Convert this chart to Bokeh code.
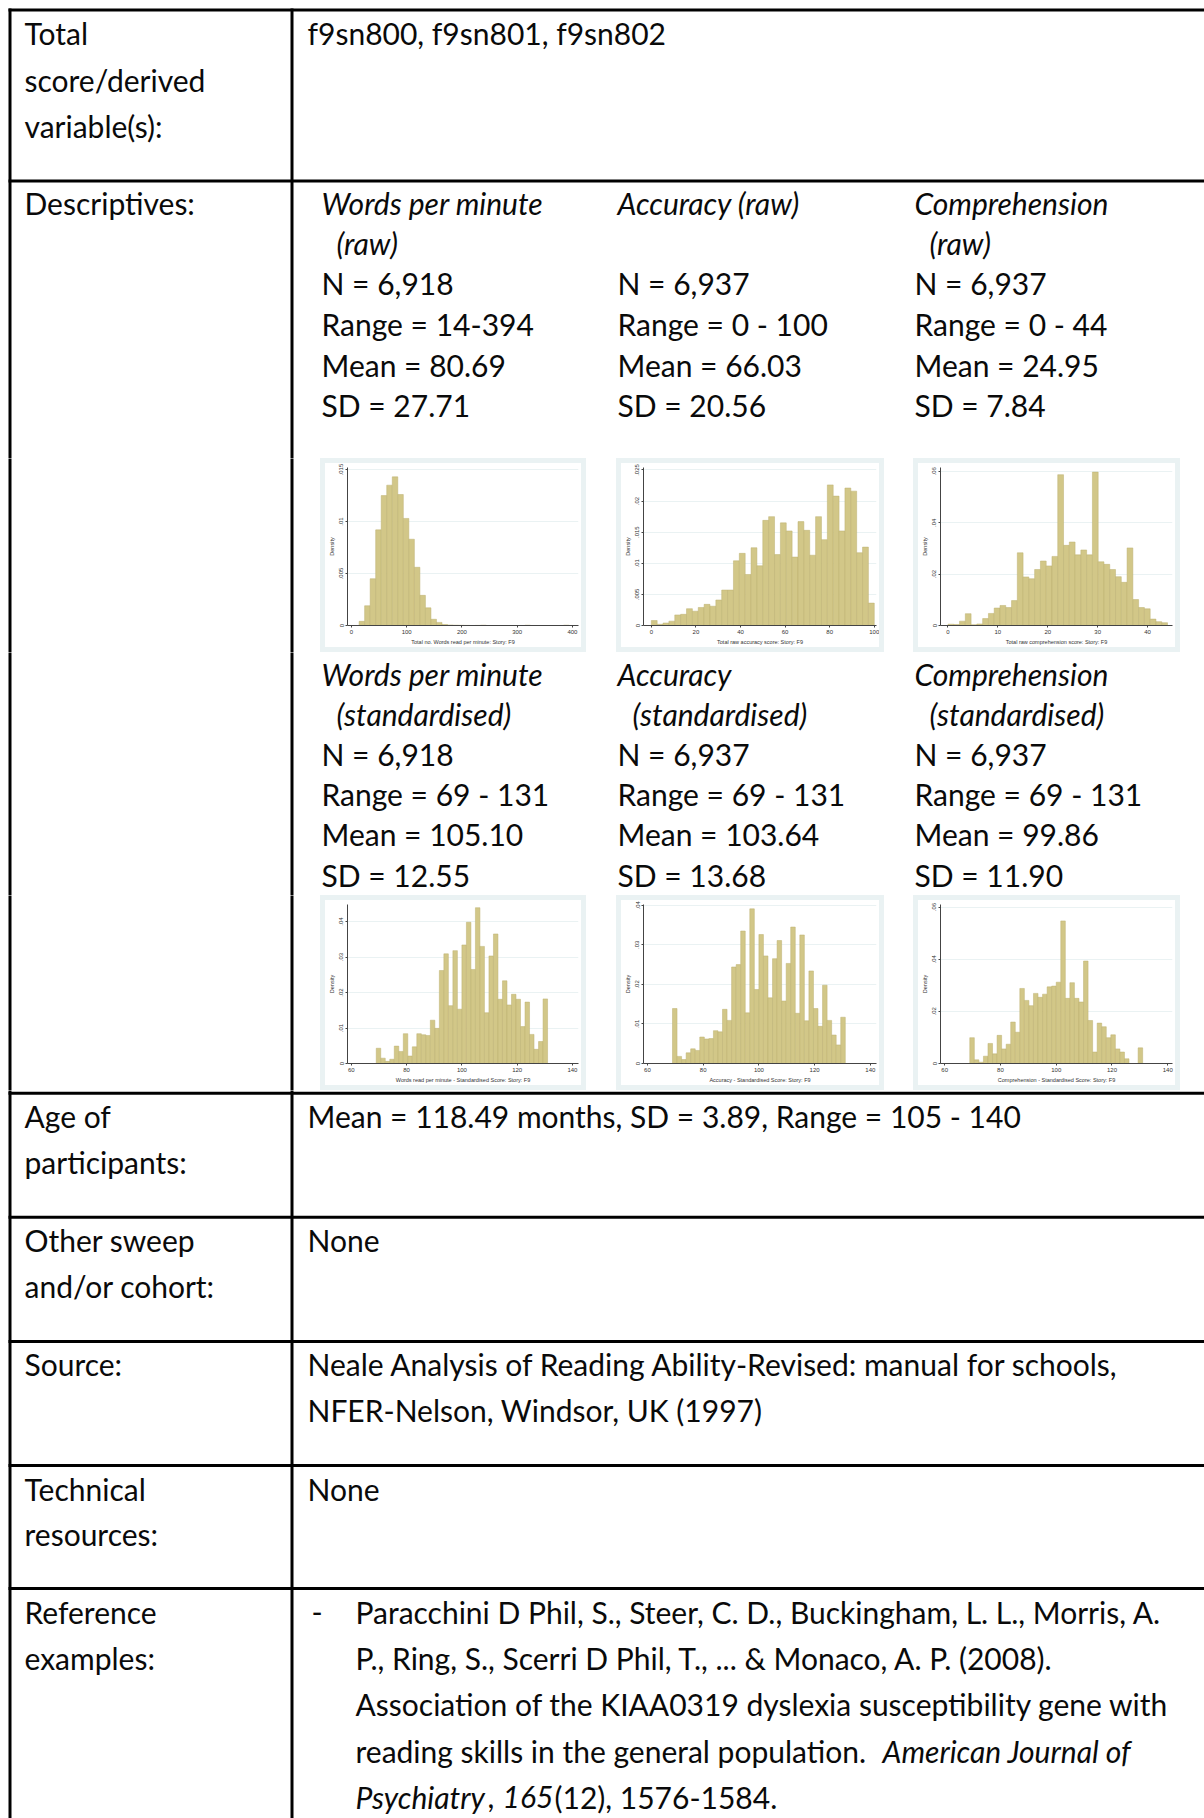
import numpy as np
from bokeh.plotting import figure
from bokeh.layouts import row, column
from bokeh.models import Range1d, FixedTicker, Spacer
from bokeh.core.properties import value
from bokeh.embed import file_html
from bokeh.resources import INLINE

# ------------------------------------------------------------------ data
variables_text = "f9sn800, f9sn801, f9sn802"
row_labels = [["Total", "score/derived", "variable(s):"],
              ["Descriptives:"],
              ["Age of", "participants:"],
              ["Other sweep", "and/or cohort:"],
              ["Source:"],
              ["Technical", "resources:"],
              ["Reference", "examples:"]]

raw_titles = [["Words per minute", "(raw)"], ["Accuracy (raw)", ""], ["Comprehension", "(raw)"]]
raw_N = ["6,918", "6,937", "6,937"]
raw_range = ["14-394", "0 - 100", "0 - 44"]
raw_mean = ["80.69", "66.03", "24.95"]
raw_sd = ["27.71", "20.56", "7.84"]

std_titles = [["Words per minute", "(standardised)"], ["Accuracy", "(standardised)"],
              ["Comprehension", "(standardised)"]]
std_N = ["6,918", "6,937", "6,937"]
std_range = ["69 - 131", "69 - 131", "69 - 131"]
std_mean = ["105.10", "103.64", "99.86"]
std_sd = ["12.55", "13.68", "11.90"]

age_text = "Mean = 118.49 months, SD = 3.89, Range = 105 - 140"
other_text = "None"
source_lines = ["Neale Analysis of Reading Ability-Revised: manual for schools,",
                "NFER-Nelson, Windsor, UK (1997)"]
technical_text = "None"
ref_lines_plain = ["Paracchini D Phil, S., Steer, C. D., Buckingham, L. L., Morris, A.",
                   "P., Ring, S., Scerri D Phil, T., ... & Monaco, A. P. (2008).",
                   "Association of the KIAA0319 dyslexia susceptibility gene with"]
ref_line4 = [("reading skills in the general population.", "normal"), ("American Journal of", "italic")]
ref_line5 = [("Psychiatry", "italic"), (",", "normal"), ("165", "italic"), ("(12), 1576-1584.", "normal")]

# histograms: (lo, hi) of bins, densities (38 bins), ticks, labels
h1_lo, h1_hi = 14, 394
h1_dens = [0.0004, 0.0019, 0.0045, 0.0092, 0.0125, 0.0135, 0.0143, 0.0126, 0.0103, 0.0083,
           0.0056, 0.0029, 0.0017, 0.0006, 0.0003, 0.0001, 0.00005, 0.00003, 0.00002, 0.00001,
           0, 0.00001, 0.00003, 0, 0, 0, 0, 0, 0, 0, 0.00003, 0, 0, 0, 0, 0, 0, 0.00003]
h1_xticks = [0, 100, 200, 300, 400]
h1_yticks = [0, 0.005, 0.01, 0.015]
h1_ylabels = ["0", ".005", ".01", ".015"]
h1_xlabel = "Total no. Words read per minute: Story: F9"

h2_lo, h2_hi = 0, 100
h2_dens = [0.0008, 0.0002, 0.0004, 0.0007, 0.0017, 0.0018, 0.0027, 0.0023, 0.0029, 0.0034,
           0.0031, 0.0041, 0.0057, 0.0057, 0.0104, 0.0116, 0.0082, 0.0125, 0.0096, 0.0169,
           0.0175, 0.0114, 0.0165, 0.0152, 0.0110, 0.0167, 0.0153, 0.0113, 0.0175, 0.0138,
           0.0226, 0.0208, 0.0152, 0.0221, 0.0216, 0.0117, 0.0126, 0.0036]
h2_xticks = [0, 20, 40, 60, 80, 100]
h2_yticks = [0, 0.005, 0.01, 0.015, 0.02, 0.025]
h2_ylabels = ["0", ".005", ".01", ".015", ".02", ".025"]
h2_xlabel = "Total raw accuracy score: Story: F9"

h3_lo, h3_hi = 0, 44
h3_dens = [0.0005, 0.0004, 0.0017, 0.0046, 0.0003, 0.0006, 0.0027, 0.0047, 0.0068, 0.0078,
           0.0070, 0.0097, 0.0283, 0.0189, 0.0182, 0.0218, 0.0251, 0.0232, 0.0269, 0.0587,
           0.0312, 0.0325, 0.0275, 0.0294, 0.0275, 0.0597, 0.0248, 0.0238, 0.0218, 0.0190,
           0.0168, 0.0302, 0.0101, 0.0070, 0.0065, 0.0025, 0.0015, 0.0011]
h3_xticks = [0, 10, 20, 30, 40]
h3_yticks = [0, 0.02, 0.04, 0.06]
h3_ylabels = ["0", ".02", ".04", ".06"]
h3_xlabel = "Total raw comprehension score: Story: F9"

std_lo, std_hi = 69, 131
std_xticks = [60, 80, 100, 120, 140]
h4_dens = [0.0043, 0.0015, 0.0006, 0.0012, 0.0049, 0.0034, 0.0084, 0.0021, 0.0047, 0.0084,
           0.0081, 0.0079, 0.0122, 0.0099, 0.0262, 0.0309, 0.0163, 0.0318, 0.0153, 0.0334,
           0.0398, 0.0265, 0.0439, 0.0330, 0.0143, 0.0303, 0.0365, 0.0181, 0.0233, 0.0165,
           0.0195, 0.0181, 0.0104, 0.0173, 0.0082, 0.0040, 0.0062, 0.0182]
h4_yticks = [0, 0.01, 0.02, 0.03, 0.04]
h4_ylabels = ["0", ".01", ".02", ".03", ".04"]
h4_xlabel = "Words read per minute - Standardised Score: Story: F9"

h5_dens = [0.0139, 0.0018, 0.0010, 0.0027, 0.0037, 0.0033, 0.0067, 0.0062, 0.0063, 0.0083,
           0.0080, 0.0137, 0.0109, 0.0244, 0.0250, 0.0335, 0.0128, 0.0391, 0.0187, 0.0326,
           0.0272, 0.0166, 0.0265, 0.0311, 0.0158, 0.0253, 0.0345, 0.0127, 0.0325, 0.0108,
           0.0234, 0.0139, 0.0094, 0.0198, 0.0109, 0.0072, 0.0047, 0.0117]
h5_yticks = [0, 0.01, 0.02, 0.03, 0.04]
h5_ylabels = ["0", ".01", ".02", ".03", ".04"]
h5_xlabel = "Accuracy - Standardised Score: Story: F9"

h6_dens = [0.0099, 0.0014, 0.0005, 0.0028, 0.0077, 0.0037, 0.0108, 0.0056, 0.0074, 0.0159,
           0.0120, 0.0288, 0.0242, 0.0222, 0.0269, 0.0254, 0.0266, 0.0294, 0.0297, 0.0312,
           0.0547, 0.0250, 0.0310, 0.0250, 0.0236, 0.0393, 0.0165, 0.0044, 0.0155, 0.0141,
           0.0099, 0.0110, 0.0056, 0.0044, 0.0018, 0, 0, 0.0060]
h6_yticks = [0, 0.02, 0.04, 0.06]
h6_ylabels = ["0", ".02", ".04", ".06"]
h6_xlabel = "Comprehension - Standardised Score: Story: F9"

# ------------------------------------------------------------------ layout / style
PW, PH = 1204, 1818      # page-sized layout
OFF = 8                  # table coordinates are offset by 8px from the page corner
W, H = PW - OFF, PH - OFF
FONT = "Lato"
FS = "30px"
TXT = "#0a0a0a"
LINE_W = 3
VLINES = [1.5, 283.5]
HLINES = [1.5, 172.5, 1084.7, 1208.8, 1333, 1457, 1580]
LAB_X, VAL_X = 16, 299
COL_X = [313, 609, 906]
INDENT = 15
TDY = -2.5               # vertical nudge of all table text

BAR_FILL = "#D2C788"
BAR_LINE = "#BDB070"
HBG = "#EAF2F3"
SB = 5                   # width of the light frame round each histogram

texts = []  # (x, y, text, style)


def add(x, y, t, style="normal"):
    texts.append((x, y + TDY, t, style))


label_centres = [[27, 73.5, 120], [197], [1110, 1156], [1234, 1280], [1358], [1483, 1528], [1606, 1652]]
for lines, ys in zip(row_labels, label_centres):
    for t, y in zip(lines, ys):
        add(LAB_X, y, t)

add(VAL_X, 27, variables_text)

raw_ys = [197, 237, 277, 318, 359, 399]
std_ys = [668, 708, 748, 788, 828, 869]
for blocks, ys in (((raw_titles, raw_N, raw_range, raw_mean, raw_sd), raw_ys),
                   ((std_titles, std_N, std_range, std_mean, std_sd), std_ys)):
    titles, Ns, rngs, means, sds = blocks
    for i, cx in enumerate(COL_X):
        add(cx, ys[0], titles[i][0], "italic")
        if titles[i][1]:
            add(cx + INDENT, ys[1], titles[i][1], "italic")
        add(cx, ys[2], "N = " + Ns[i])
        add(cx, ys[3], "Range = " + rngs[i])
        add(cx, ys[4], "Mean = " + means[i])
        add(cx, ys[5], "SD = " + sds[i])

add(VAL_X, 1110, age_text)
add(VAL_X, 1234, other_text)
for t, y in zip(source_lines, [1358, 1404]):
    add(VAL_X, y, t)
add(VAL_X, 1483, technical_text)
REF_X = 347
ref_ys = [1606, 1652, 1698, 1745, 1791]
add(303, ref_ys[0], "-")
for t, y in zip(ref_lines_plain, ref_ys[:3]):
    add(REF_X, y, t)
for (t, s), x in zip(ref_line4, [REF_X, 874]):
    add(x, ref_ys[3], t, s)
for (t, s), x in zip(ref_line5, [REF_X, 479, 494, 546]):
    add(x, ref_ys[4], t, s)


def canvas(px0, px1, py0, py1):
    """A white piece of the table, spanning page pixels [px0, px1] x [py0, py1]."""
    x0, x1, y0, y1 = px0 - OFF, px1 - OFF, py0 - OFF, py1 - OFF
    p = figure(width=px1 - px0, height=py1 - py0, x_range=Range1d(x0, x1), y_range=Range1d(y1, y0),
               output_backend="svg", toolbar_location=None, min_border=0,
               x_axis_location=None, y_axis_location=None)
    p.grid.visible = False
    p.outline_line_color = None
    p.background_fill_color = "white"
    p.border_fill_color = "white"
    p.segment(x0=VLINES, x1=VLINES, y0=[0] * len(VLINES), y1=[H] * len(VLINES),
              line_color="black", line_width=LINE_W)
    p.segment(x0=[0] * len(HLINES), x1=[W] * len(HLINES), y0=HLINES, y1=HLINES,
              line_color="black", line_width=LINE_W)
    for style in ("normal", "italic"):
        sel = [t for t in texts if t[3] == style and y0 <= t[1] < y1 and x0 <= t[0] < x1]
        if sel:
            p.text(x=[t[0] for t in sel], y=[t[1] for t in sel], text=[t[2] for t in sel],
                   text_font=value(FONT), text_font_size=value(FS), text_font_style=style,
                   text_color=TXT, text_baseline="middle", text_align="left")
    return p


def strip(w, h):
    return Spacer(width=w, height=h, styles={"background-color": HBG})


def hist(lo, hi, dens, xr, ytop, xticks, yticks, ylabels, xlabel, w, h):
    edges = np.linspace(lo, hi, len(dens) + 1)
    p = figure(width=w - 2 * SB, height=h - 2 * SB, x_range=Range1d(*xr), y_range=Range1d(0, ytop),
               output_backend="svg", toolbar_location=None,
               min_border_left=26 - SB, min_border_bottom=26 - SB,
               min_border_top=9 - SB, min_border_right=8 - SB)
    p.quad(left=edges[:-1], right=edges[1:], bottom=0, top=dens,
           fill_color=BAR_FILL, line_color=BAR_LINE, line_width=0.5)
    p.background_fill_color = "white"
    p.border_fill_color = "white"
    p.outline_line_color = None
    p.xgrid.visible = False
    p.ygrid.grid_line_color = HBG
    p.ygrid.ticker = FixedTicker(ticks=yticks[1:])
    p.xaxis.ticker = FixedTicker(ticks=xticks)
    p.yaxis.ticker = FixedTicker(ticks=yticks)
    p.yaxis.major_label_overrides = {t: l for t, l in zip(yticks, ylabels)}
    p.yaxis.major_label_orientation = "vertical"
    p.yaxis.axis_label = "Density"
    p.xaxis.axis_label = xlabel
    for ax in (p.xaxis, p.yaxis):
        ax.axis_line_color = "#444444"
        ax.major_tick_line_color = "#444444"
        ax.major_tick_out = 2
        ax.major_tick_in = 0
        ax.minor_tick_line_color = None
        ax.major_label_text_font = "Liberation Sans"
        ax.major_label_text_font_size = "6px"
        ax.major_label_text_color = "#333333"
        ax.major_label_standoff = 2
        ax.axis_label_text_font = "Liberation Sans"
        ax.axis_label_text_font_size = "5.5px"
        ax.axis_label_text_font_style = "normal"
        ax.axis_label_text_color = "#333333"
        ax.axis_label_standoff = 2
    cell = column(strip(w, SB), row(strip(SB, h - 2 * SB), p, strip(SB, h - 2 * SB)), strip(w, SB))
    return cell


# page-pixel geometry of the pieces
R1_Y0, R1_Y1 = 458, 652
R2_Y0, R2_Y1 = 895, 1090
HX = [(320, 586), (616, 884), (913, 1180)]


def hist_row(y0, y1, specs):
    kids = [canvas(0, HX[0][0], y0, y1)]
    for k, ((a, b), spec) in enumerate(zip(HX, specs)):
        kids.append(hist(*spec, w=b - a, h=y1 - y0))
        nxt = HX[k + 1][0] if k + 1 < len(HX) else PW
        kids.append(canvas(b, nxt, y0, y1))
    return row(*kids)


row1 = hist_row(R1_Y0, R1_Y1, [
    (h1_lo, h1_hi, h1_dens, (-7, 411), 0.0152, h1_xticks, h1_yticks, h1_ylabels, h1_xlabel),
    (h2_lo, h2_hi, h2_dens, (-3.5, 101), 0.0254, h2_xticks, h2_yticks, h2_ylabels, h2_xlabel),
    (h3_lo, h3_hi, h3_dens, (-1.5, 45), 0.0615, h3_xticks, h3_yticks, h3_ylabels, h3_xlabel),
])
row2 = hist_row(R2_Y0, R2_Y1, [
    (std_lo, std_hi, h4_dens, (58.6, 142.2), 0.0448, std_xticks, h4_yticks, h4_ylabels, h4_xlabel),
    (std_lo, std_hi, h5_dens, (58.6, 142.2), 0.0402, std_xticks, h5_yticks, h5_ylabels, h5_xlabel),
    (std_lo, std_hi, h6_dens, (58.5, 141.7), 0.0610, std_xticks, h6_yticks, h6_ylabels, h6_xlabel),
])

layout = column(canvas(0, PW, 0, R1_Y0), row1, canvas(0, PW, R1_Y1, R2_Y0), row2,
                canvas(0, PW, R2_Y1, PH))

open("out.html", "w").write(file_html(layout, INLINE))
